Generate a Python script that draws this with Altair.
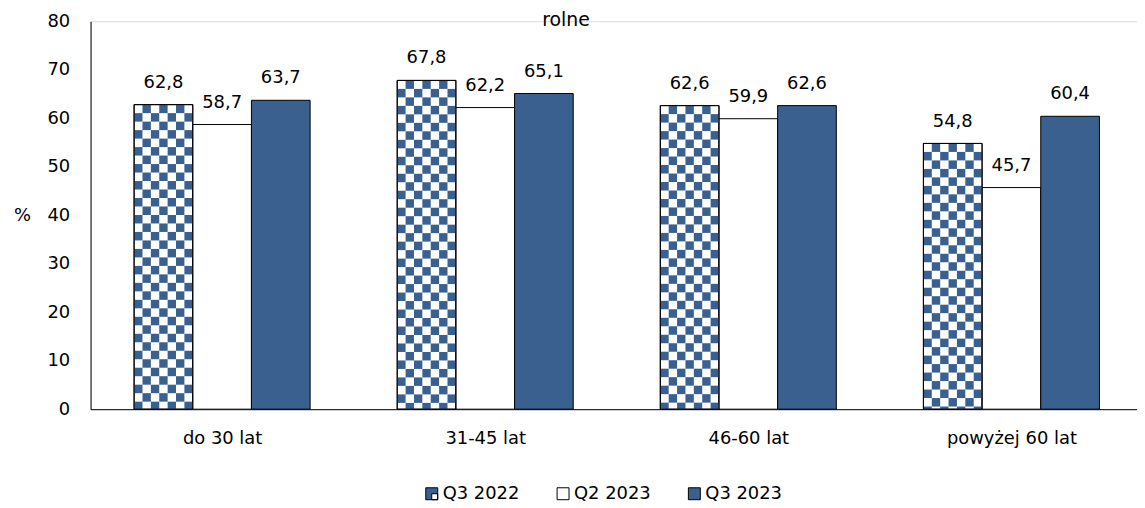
import json
import altair as alt
import pandas as pd

categories = ["do 30 lat", "31-45 lat", "46-60 lat", "powyżej 60 lat"]
series = ["Q3 2022", "Q2 2023", "Q3 2023"]
q3_2022 = [62.8, 67.8, 62.6, 54.8]
q2_2023 = [58.7, 62.2, 59.9, 45.7]
q3_2023 = [63.7, 65.1, 62.6, 60.4]
title_text = "rolne"

BLUE = "#3A6090"
FONT = "DejaVu Sans"
BAR_W = 0.223          # bar width in category units
PAD = (1 - 3 * BAR_W) / 2
N_COLS = 7             # checker columns per bar
CELL_H = 1.75          # checker row height in y units

rows = []
for k, (name, vals) in enumerate(zip(series, [q3_2022, q2_2023, q3_2023])):
    for i, v in enumerate(vals):
        x0 = i + PAD + k * BAR_W
        rows.append({
            "series": name, "cat": categories[i], "value": v,
            "x0": x0, "x1": x0 + BAR_W, "xc": x0 + BAR_W / 2,
            "label": f"{v:.1f}".replace(".", ","),
            "fillcol": "white" if k < 2 else BLUE,
        })
bars = pd.DataFrame(rows)

# checker texture cells for the Q3 2022 bars
cells = []
for _, b in bars[bars.series == "Q3 2022"].iterrows():
    cw = BAR_W / N_COLS
    r = 0
    top = b.value
    while top > 0:
        bottom = max(top - CELL_H, 0)
        for c in range(N_COLS):
            if (r + c) % 2 == 1:
                cells.append({"x0": b.x0 + c * cw, "x1": b.x0 + (c + 1) * cw,
                              "y0": bottom, "y1": top})
        top = bottom
        r += 1
cells = pd.DataFrame(cells)

W, H = 1052, 390
xscale = alt.Scale(domain=[0, W / 264.5], nice=False, zero=False)
yscale = alt.Scale(domain=[0, 80], nice=False)
label_expr = json.dumps(categories, ensure_ascii=False) + "[floor(datum.value)]"

xaxis = alt.Axis(values=[0.5, 1.5, 2.5, 3.5], labelExpr=label_expr, ticks=False,
                 grid=False, domainColor="black", labelColor="black",
                 labelFont=FONT, labelFontSize=18, labelPadding=20, title=None)
yaxis = alt.Axis(values=list(range(0, 81, 10)), ticks=False, grid=False,
                 domainColor="black", labelColor="black", labelFont=FONT,
                 labelFontSize=18, labelPadding=21, title="%", titleAngle=0,
                 titleX=-69, titleY=H / 2, titleAlign="center",
                 titleBaseline="middle", titleFont=FONT, titleFontSize=18,
                 titleFontWeight="normal", titleColor="black")

base = alt.Chart(bars)

bar_layer = base.mark_rect(stroke="black", strokeWidth=1).encode(
    x=alt.X("x0:Q", scale=xscale, axis=xaxis),
    x2="x1:Q",
    y=alt.Y("value:Q", scale=yscale, axis=yaxis),
    y2=alt.datum(0),
    fill=alt.Fill("fillcol:N", scale=None),
)

cell_layer = alt.Chart(cells).mark_rect(fill=BLUE, strokeWidth=0).encode(
    x="x0:Q", x2="x1:Q", y="y0:Q", y2="y1:Q")

outline_layer = base.transform_filter(alt.datum.series == "Q3 2022").mark_rect(
    fillOpacity=0, stroke="black", strokeWidth=1).encode(
    x="x0:Q", x2="x1:Q", y="value:Q", y2=alt.datum(0))

text_layer = base.mark_text(font=FONT, fontSize=18, baseline="alphabetic",
                            dy=-17, color="black").encode(
    x="xc:Q", y="value:Q", text="label:N")

check_path = "M-1,-1H1V1H-1Z M0,0V1H1V0Z"
legend_opts = dict(title=None, orient="none", direction="horizontal",
                   legendX=334, legendY=466, symbolSize=144,
                   symbolStrokeColor="black", symbolStrokeWidth=1,
                   symbolOpacity=1, labelFont=FONT, labelFontSize=18,
                   labelColor="black", labelOffset=2, columnPadding=34,
                   padding=0)
legend_layer = base.mark_point(filled=True, opacity=0).encode(
    x=alt.value(0), y=alt.value(0),
    fill=alt.Fill("series:N", scale=alt.Scale(domain=series, range=[BLUE, "white", BLUE]),
                  legend=alt.Legend(**legend_opts)),
    shape=alt.Shape("series:N", scale=alt.Scale(domain=series,
                                                range=[check_path, "square", "square"]),
                    legend=alt.Legend(**legend_opts)),
)

title_layer = alt.Chart(pd.DataFrame({"t": [title_text]})).mark_text(
    font=FONT, fontSize=19, baseline="alphabetic", color="black").encode(
    x=alt.value(478), y=alt.value(5), text="t:N")

chart = alt.layer(bar_layer, cell_layer, outline_layer, text_layer, legend_layer,
                  title_layer).properties(
    width=W, height=H,
    padding={"left": 5, "top": 2, "right": 0, "bottom": 0},
).configure_view(stroke=None).configure(background="white")

chart.save("out.html", embed_options={"renderer": "svg", "actions": False})
